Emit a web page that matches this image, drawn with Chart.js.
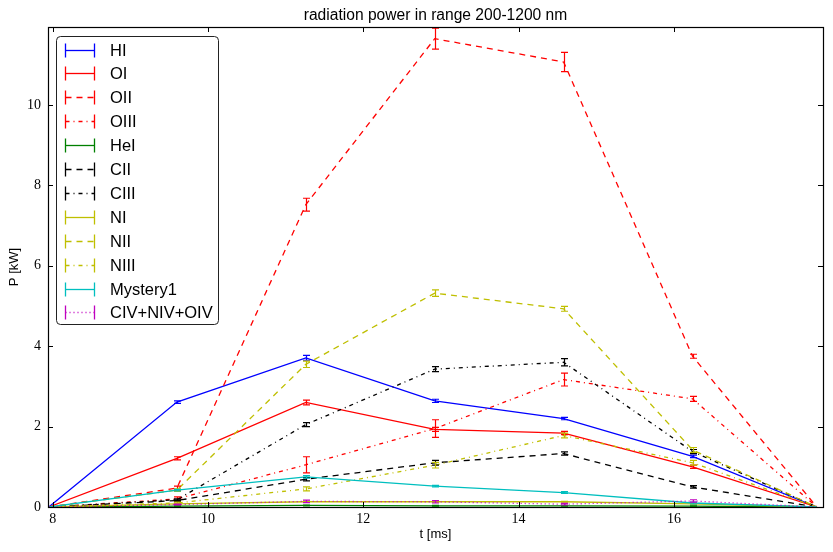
<!DOCTYPE html>
<html>
<head>
<meta charset="utf-8">
<script src="https://cdn.jsdelivr.net/npm/chart.js@4.4.0/dist/chart.umd.min.js"></script>
<style>
  html, body { margin: 0; padding: 0; background: #fff; }
  #wrap { width: 833px; height: 552px; }
</style>
</head>
<body>
<div id="wrap"><canvas id="powerChart" width="833" height="552"></canvas></div>
<script>
// time axis [ms]
const times = [7.95, 9.6, 11.26, 12.92, 14.58, 16.24, 17.84];

// radiated power [kW] and error per line
const hI      = [0, 2.61, 3.71, 2.64, 2.20, 1.26, 0];
const hIErr   = [0, 0.03, 0.06, 0.04, 0.03, 0.03, 0];
const oI      = [0, 1.21, 2.60, 1.93, 1.84, 1.00, 0];
const oIErr   = [0, 0.04, 0.06, 0.05, 0.04, 0.04, 0];
const oII     = [0, 0.47, 7.52, 11.65, 11.07, 3.75, 0];
const oIIErr  = [0, 0.05, 0.16, 0.26, 0.24, 0.05, 0];
const oIII    = [0, 0.20, 1.05, 1.95, 3.17, 2.69, 0];
const oIIIErr = [0, 0.05, 0.20, 0.22, 0.16, 0.06, 0];
const heI     = [0, 0.02, 0.04, 0.03, 0.03, 0.02, 0];
const heIErr  = [0, 0.01, 0.01, 0.01, 0.01, 0.01, 0];
const cII     = [0, 0.16, 0.69, 1.10, 1.33, 0.50, 0];
const cIIErr  = [0, 0.02, 0.04, 0.06, 0.04, 0.03, 0];
const cIII    = [0, 0.18, 2.05, 3.43, 3.60, 1.38, 0];
const cIIIErr = [0, 0.02, 0.05, 0.06, 0.09, 0.05, 0];
const nI      = [0, 0.08, 0.13, 0.13, 0.13, 0.08, 0];
const nIErr   = [0, 0.01, 0.01, 0.01, 0.01, 0.01, 0];
const nII     = [0, 0.42, 3.55, 5.32, 4.93, 1.42, 0];
const nIIErr  = [0, 0.03, 0.08, 0.08, 0.06, 0.06, 0];
const nIII    = [0, 0.10, 0.45, 1.04, 1.78, 1.10, 0];
const nIIIErr = [0, 0.02, 0.05, 0.07, 0.06, 0.06, 0];
const mystery = [0, 0.42, 0.75, 0.52, 0.36, 0.10, 0];
const mysteryErr = [0, 0.02, 0.03, 0.02, 0.02, 0.02, 0];
const ivSum   = [0, 0.06, 0.14, 0.13, 0.07, 0.15, 0];
const ivSumErr = [0, 0.01, 0.03, 0.03, 0.02, 0.03, 0];

const labels = ['HI', 'OI', 'OII', 'OIII', 'HeI', 'CII', 'CIII', 'NI', 'NII', 'NIII', 'Mystery1', 'CIV+NIV+OIV'];
const values = [hI, oI, oII, oIII, heI, cII, cIII, nI, nII, nIII, mystery, ivSum];
const errors = [hIErr, oIErr, oIIErr, oIIIErr, heIErr, cIIErr, cIIIErr, nIErr, nIIErr, nIIIErr, mysteryErr, ivSumErr];

const xTicks = [8, 10, 12, 14, 16];
const yTicks = [0, 2, 4, 6, 8, 10];

// line styles (matplotlib classic look)
const SOLID = [], DASH = [6, 5], DASHDOT = [4, 4, 1, 4], DOT = [1, 3];
const colors = ['#0000ff', '#ff0000', '#ff0000', '#ff0000', '#008000', '#000000',
                '#000000', '#bfbf00', '#bfbf00', '#bfbf00', '#00bfbf', '#bf00bf'];
const dashes = [SOLID, SOLID, DASH, DASHDOT, SOLID, DASH, DASHDOT, SOLID, DASH, DASHDOT, SOLID, DOT];

const datasets = labels.map((name, i) => ({
    label: name,
    data: times.map((t, j) => ({ x: t, y: values[i][j] })),
    errors: errors[i],
    showLine: true,
    borderColor: colors[i],
    backgroundColor: colors[i],
    borderWidth: 1.3,
    borderDash: dashes[i],
    pointRadius: 0,
    tension: 0,
    order: labels.length - i
}));

// error bars with caps
const errorBars = {
    id: 'errorBars',
    afterDatasetsDraw(chart) {
        const ctx = chart.ctx;
        const xs = chart.scales.x, ys = chart.scales.y;
        const area = chart.chartArea;
        ctx.save();
        ctx.beginPath();
        ctx.rect(area.left, area.top, area.right - area.left, area.bottom - area.top);
        ctx.clip();
        ctx.lineWidth = 1.2;
        ctx.setLineDash([]);
        chart.data.datasets.forEach(ds => {
            ctx.strokeStyle = ds.borderColor;
            ds.data.forEach((p, j) => {
                const e = ds.errors[j];
                if (!e) return;
                const x = Math.round(xs.getPixelForValue(p.x)) + 0.5;
                const y1 = ys.getPixelForValue(p.y + e);
                const y2 = ys.getPixelForValue(p.y - e);
                ctx.beginPath();
                ctx.moveTo(x, y1); ctx.lineTo(x, y2);
                ctx.moveTo(x - 3.5, y1); ctx.lineTo(x + 3.5, y1);
                ctx.moveTo(x - 3.5, y2); ctx.lineTo(x + 3.5, y2);
                ctx.stroke();
            });
        });
        ctx.restore();
    }
};

// frame, inward ticks and the legend box
const frameAndLegend = {
    id: 'frameAndLegend',
    afterDraw(chart) {
        const ctx = chart.ctx;
        const a = chart.chartArea;
        const xs = chart.scales.x, ys = chart.scales.y;
        ctx.save();
        ctx.setLineDash([]);
        ctx.strokeStyle = '#000';
        ctx.lineWidth = 1.2;
        ctx.strokeRect(Math.round(a.left) + 0.5, Math.round(a.top) + 0.5,
                       Math.round(a.right - a.left), Math.round(a.bottom - a.top));
        ctx.lineWidth = 1;
        ctx.beginPath();
        xTicks.forEach(v => {
            const x = Math.round(xs.getPixelForValue(v)) + 0.5;
            ctx.moveTo(x, a.bottom); ctx.lineTo(x, a.bottom - 5);
            ctx.moveTo(x, a.top); ctx.lineTo(x, a.top + 5);
        });
        yTicks.forEach(v => {
            const y = Math.round(ys.getPixelForValue(v)) + 0.5;
            ctx.moveTo(a.left, y); ctx.lineTo(a.left + 5, y);
            ctx.moveTo(a.right, y); ctx.lineTo(a.right - 5, y);
        });
        ctx.stroke();

        // legend
        const bx = 56.5, by = 36.5, bw = 162, bh = 288, r = 4;
        ctx.beginPath();
        ctx.moveTo(bx + r, by);
        ctx.arcTo(bx + bw, by, bx + bw, by + bh, r);
        ctx.arcTo(bx + bw, by + bh, bx, by + bh, r);
        ctx.arcTo(bx, by + bh, bx, by, r);
        ctx.arcTo(bx, by, bx + bw, by, r);
        ctx.closePath();
        ctx.fillStyle = '#fff';
        ctx.fill();
        ctx.strokeStyle = '#222';
        ctx.stroke();

        ctx.font = '16.5px "Liberation Sans", Arial, sans-serif';
        ctx.textBaseline = 'middle';
        ctx.lineWidth = 1.3;
        chart.data.datasets.forEach((ds, i) => {
            const y = Math.round(49.5 + i * 23.9) + 0.5;
            const x1 = 65.5, x2 = 94.5;
            ctx.strokeStyle = ds.borderColor;
            ctx.setLineDash(ds.borderDash);
            ctx.beginPath();
            ctx.moveTo(x1, y); ctx.lineTo(x2, y);
            ctx.stroke();
            ctx.setLineDash([]);
            ctx.beginPath();
            ctx.moveTo(x1, y - 7); ctx.lineTo(x1, y + 7);
            ctx.moveTo(x2, y - 7); ctx.lineTo(x2, y + 7);
            ctx.stroke();
            ctx.fillStyle = '#000';
            ctx.fillText(ds.label, 110, y + 1);
        });
        ctx.restore();
    }
};

const chart = new Chart(document.getElementById('powerChart').getContext('2d'), {
    type: 'scatter',
    data: { datasets: datasets },
    options: {
        responsive: false,
        animation: false,
        devicePixelRatio: 1,
        layout: { padding: { top: 0, right: 10, left: 0, bottom: 0 } },
        plugins: {
            legend: { display: false },
            tooltip: { enabled: false },
            title: {
                display: true,
                text: 'radiation power in range 200-1200 nm',
                fullSize: false,
                color: '#000',
                font: { family: '"Liberation Sans", Arial, sans-serif', size: 15.6, weight: 'normal' },
                padding: { top: 6, bottom: 2.3 }
            }
        },
        scales: {
            x: {
                type: 'linear',
                min: 7.94,
                max: 17.92,
                grid: { display: false, drawTicks: false },
                border: { display: false },
                afterBuildTicks: s => { s.ticks = xTicks.map(v => ({ value: v })); },
                afterFit: s => { s.height = 45; },
                ticks: {
                    color: '#000',
                    padding: 4,
                    maxRotation: 0,
                    font: { family: '"Liberation Serif", "Times New Roman", serif', size: 14 }
                },
                title: {
                    display: true,
                    text: 't [ms]',
                    color: '#000',
                    font: { family: '"Liberation Sans", Arial, sans-serif', size: 13 },
                    padding: { top: 0, bottom: 9.6 }
                }
            },
            y: {
                type: 'linear',
                min: 0,
                max: 11.94,
                grid: { display: false, drawTicks: false },
                border: { display: false },
                afterBuildTicks: s => { s.ticks = yTicks.map(v => ({ value: v })); },
                afterFit: s => { s.width = 48; },
                ticks: {
                    color: '#000',
                    padding: 7,
                    font: { family: '"Liberation Serif", "Times New Roman", serif', size: 14 }
                },
                title: {
                    display: true,
                    text: 'P [kW]',
                    color: '#000',
                    font: { family: '"Liberation Sans", Arial, sans-serif', size: 13 },
                    padding: { top: 6.6, bottom: 0 }
                }
            }
        }
    },
    plugins: [errorBars, frameAndLegend]
});
</script>
</body>
</html>
